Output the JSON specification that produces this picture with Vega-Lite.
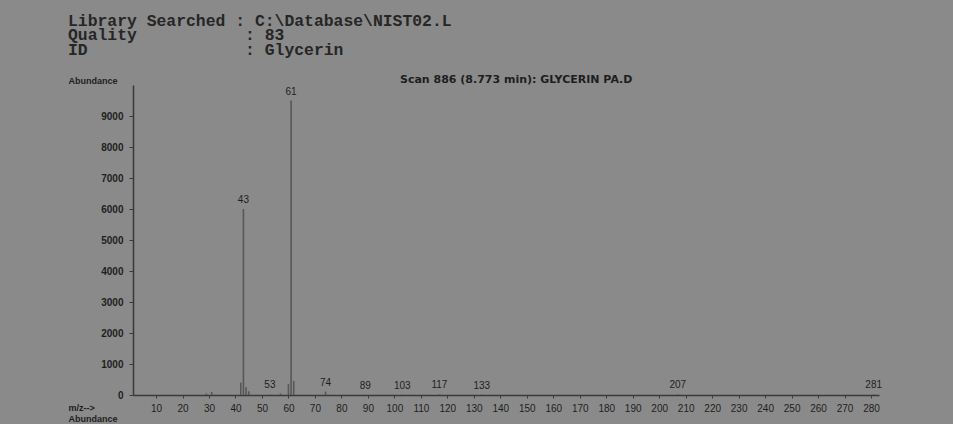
{
  "$schema": "https://vega.github.io/schema/vega-lite/v6.json",
  "width": 746,
  "height": 310,
  "autosize": {"type": "none"},
  "padding": {"left": 133, "top": 85, "right": 74, "bottom": 29},
  "background": "#8a8a8a",
  "config": {
    "view": {"stroke": null},
    "font": "Liberation Sans",
    "title": {"font": "Liberation Mono", "fontSize": 16.4, "fontWeight": "bold", "color": "#262626", "lineHeight": 14.5}
  },
  "title": {
    "text": ["Library Searched : C:\\Database\\NIST02.L", "Quality\u00a0\u00a0\u00a0\u00a0\u00a0\u00a0\u00a0\u00a0\u00a0\u00a0 : 83", "ID\u00a0\u00a0\u00a0\u00a0\u00a0\u00a0\u00a0\u00a0\u00a0\u00a0\u00a0\u00a0\u00a0\u00a0\u00a0 : Glycerin"],
    "anchor": "start",
    "frame": "group",
    "dx": -65,
    "offset": 16
  },
  "datasets": {
    "peaks": [
      {"mz": 29, "ab": 50},
      {"mz": 31, "ab": 100},
      {"mz": 42, "ab": 400},
      {"mz": 43, "ab": 6000, "label": "43"},
      {"mz": 44, "ab": 250},
      {"mz": 45, "ab": 120},
      {"mz": 53, "ab": 20, "label": "53"},
      {"mz": 57, "ab": 50},
      {"mz": 60, "ab": 350},
      {"mz": 61, "ab": 9500, "label": "61"},
      {"mz": 62, "ab": 450},
      {"mz": 74, "ab": 110, "label": "74"},
      {"mz": 89, "ab": 15, "label": "89"},
      {"mz": 103, "ab": 15, "label": "103"},
      {"mz": 117, "ab": 20, "label": "117"},
      {"mz": 133, "ab": 15, "label": "133"},
      {"mz": 207, "ab": 20, "label": "207"},
      {"mz": 281, "ab": 20, "label": "281"}
    ],
    "header": [
      {"mz": 146, "ab": 10160, "label": "Scan 886 (8.773 min): GLYCERIN PA.D"}
    ]
  },
  "encoding": {
    "x": {
      "field": "mz", "type": "quantitative",
      "scale": {"domain": [1.3, 283], "nice": false, "zero": false},
      "axis": {
        "values": [10,20,30,40,50,60,70,80,90,100,110,120,130,140,150,160,170,180,190,200,210,220,230,240,250,260,270,280],
        "grid": false, "domainColor": "#3a3a3a", "domainWidth": 1.5,
        "tickColor": "#3a3a3a", "tickSize": 3,
        "labelFont": "Liberation Sans", "labelFontSize": 10, "labelColor": "#1e1e1e", "labelPadding": 5,
        "title": ["m/z-->", "Abundance"], "titleFont": "Liberation Sans", "titleFontSize": 9, "titleFontWeight": "bold",
        "titleColor": "#1e1e1e", "titleAnchor": "start", "titleAlign": "left", "titleX": -65, "titleY": 8,
        "titleBaseline": "top", "titleLineHeight": 11
      }
    },
    "y": {
      "field": "ab", "type": "quantitative",
      "scale": {"domain": [0, 10000], "nice": false},
      "axis": {
        "values": [0,1000,2000,3000,4000,5000,6000,7000,8000,9000],
        "format": "d",
        "grid": false, "domainColor": "#3a3a3a", "domainWidth": 1.5,
        "tickColor": "#3a3a3a", "tickSize": 4,
        "labelFont": "Liberation Sans", "labelFontSize": 10, "labelFontWeight": "bold", "labelColor": "#1e1e1e", "labelPadding": 6,
        "title": "Abundance", "titleFont": "Liberation Sans", "titleFontSize": 9, "titleFontWeight": "bold",
        "titleColor": "#1e1e1e", "titleAngle": 0, "titleAlign": "left", "titleAnchor": "start",
        "titleX": -65, "titleY": -5, "titleBaseline": "middle"
      }
    }
  },
  "layer": [
    {
      "data": {"name": "peaks"},
      "mark": {"type": "rule", "color": "#575757", "strokeWidth": 1.6},
      "encoding": {"y2": {"datum": 0}}
    },
    {
      "data": {"name": "peaks"},
      "transform": [{"filter": "isValid(datum.label)"}],
      "mark": {"type": "text", "dy": -9, "fontSize": 10, "color": "#1e1e1e", "font": "Liberation Sans"},
      "encoding": {"text": {"field": "label"}}
    },
    {
      "data": {"name": "header"},
      "mark": {"type": "text", "fontSize": 11, "fontWeight": "bold", "color": "#1e1e1e", "font": "DejaVu Sans", "align": "center"},
      "encoding": {"text": {"field": "label"}}
    }
  ]
}
